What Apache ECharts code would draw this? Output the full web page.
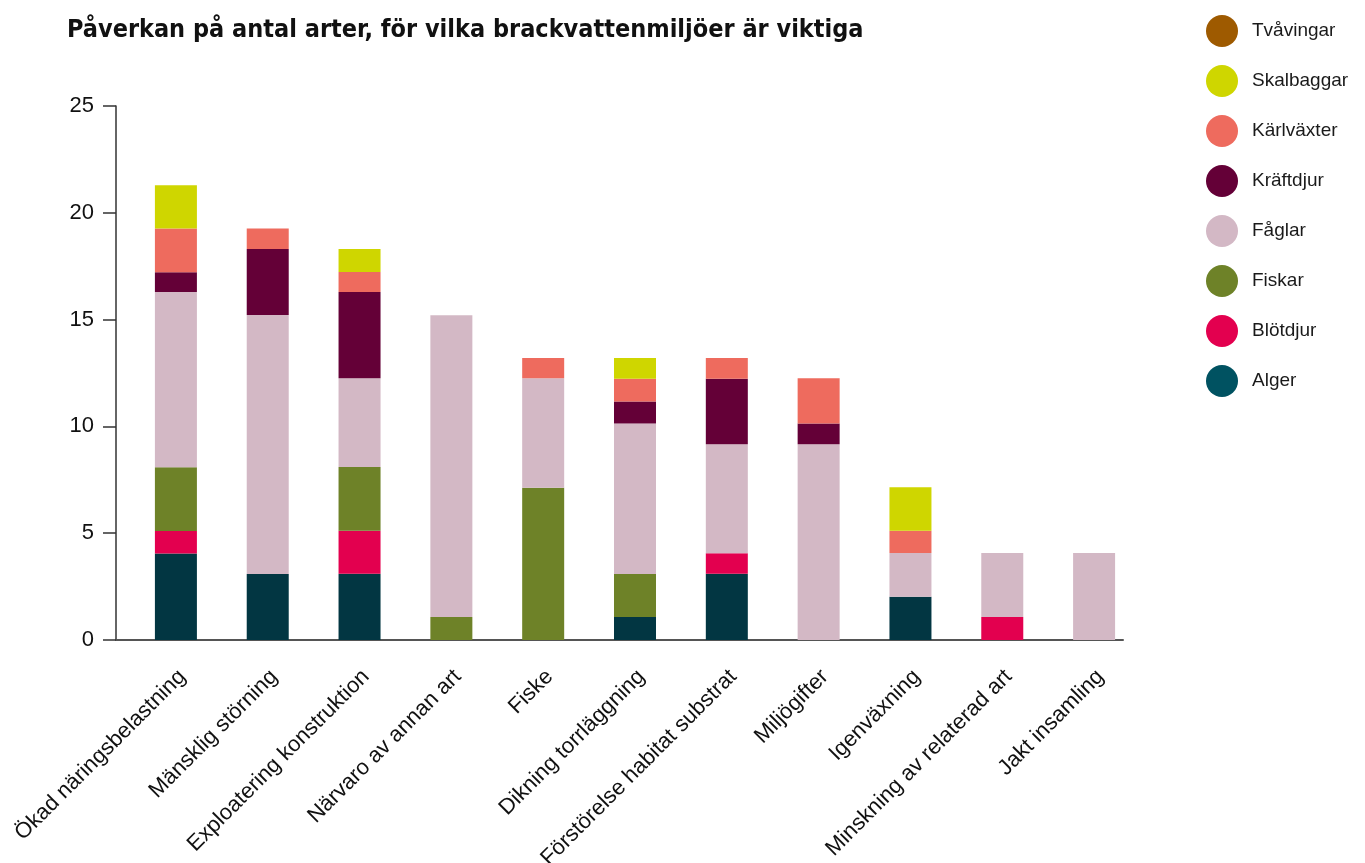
<!DOCTYPE html>
<html lang="sv">
<head>
<meta charset="utf-8">
<title>Påverkan på antal arter</title>
<script src="https://cdn.jsdelivr.net/npm/echarts@6/dist/echarts.min.js"></script>
<style>
  html, body { margin: 0; padding: 0; background: #ffffff; }
  #chart { width: 1365px; height: 863px; }
</style>
</head>
<body>
<div id="chart"></div>
<script>
// Threat categories (x axis)
const categories = [
  'Ökad näringsbelastning',
  'Mänsklig störning',
  'Exploatering konstruktion',
  'Närvaro av annan art',
  'Fiske',
  'Dikning torrläggning',
  'Förstörelse habitat substrat',
  'Miljögifter',
  'Igenväxning',
  'Minskning av relaterad art',
  'Jakt insamling'
];

// Number of species per group, stacked from the bottom up
const alger      = [4.05, 3.09, 3.10, 0,     0,    1.08, 3.10, 0,    2.03, 0,    0];
const blotdjur   = [1.05, 0,    2.02, 0,     0,    0,    0.96, 0,    0,    1.08, 0];
const fiskar     = [2.99, 0,    2.98, 1.08,  7.13, 2.01, 0,    0,    0,    0,    0];
const faglar     = [8.20, 12.13, 4.15, 14.12, 5.12, 7.04, 5.10, 9.16, 2.04, 2.99, 4.07];
const kraftdjur  = [0.93, 3.09, 4.04, 0,     0,    1.04, 3.07, 0.97, 0,    0,    0];
const karlvaxter = [2.04, 0.95, 0.94, 0,     0.95, 1.06, 0.97, 2.12, 1.05, 0,    0];
const skalbaggar = [2.03, 0,    1.07, 0,     0,    0.97, 0,    0,    2.03, 0,    0];
const tvavingar  = [0,    0,    0,    0,     0,    0,    0,    0,    0,    0,    0];

// Value axis ticks
const yTicks = [0, 5, 10, 15, 20, 25];

const groups = [
  { name: 'Alger',      data: alger,      color: '#023642', legendColor: '#005261' },
  { name: 'Blötdjur',   data: blotdjur,   color: '#e3004f' },
  { name: 'Fiskar',     data: fiskar,     color: '#6e8228' },
  { name: 'Fåglar',     data: faglar,     color: '#d3b8c5' },
  { name: 'Kräftdjur',  data: kraftdjur,  color: '#640037' },
  { name: 'Kärlväxter', data: karlvaxter, color: '#ee6b5e' },
  { name: 'Skalbaggar', data: skalbaggar, color: '#cfd600' },
  { name: 'Tvåvingar',  data: tvavingar,  color: '#9e5a00' }
];

const FONT = "'Liberation Sans', Arial, Helvetica, sans-serif";

const chart = echarts.init(document.getElementById('chart'), null, { renderer: 'canvas' });

chart.setOption({
  backgroundColor: '#ffffff',
  animation: false,
  title: {
    text: 'Påverkan på antal arter, för vilka brackvattenmiljöer är viktiga',
    left: 62,
    top: 13,
    textStyle: {
      fontFamily: "'Liberation Sans Narrow', 'DejaVu Sans Condensed', " + FONT,
      fontWeight: 'bold',
      fontSize: 25,
      color: '#111111'
    }
  },
  legend: {
    orient: 'vertical',
    left: 1201,
    top: 10,
    icon: 'circle',
    itemWidth: 32,
    itemHeight: 32,
    itemGap: 18,
    selectedMode: false,
    textStyle: {
      fontFamily: FONT,
      fontSize: 19,
      color: '#1a1a1a',
      padding: [0, 0, 0, 9]
    },
    data: groups.slice().reverse().map(g => ({
      name: g.name,
      itemStyle: { color: g.legendColor || g.color }
    }))
  },
  grid: [
    // axes frame
    { left: 116, right: 242, top: 106, bottom: 223, containLabel: false, outerBoundsMode: 'none' },
    // bars
    { left: 130, right: 225, top: 106, bottom: 223, containLabel: false, outerBoundsMode: 'none' }
  ],
  xAxis: [
    {
      gridIndex: 0,
      type: 'value',
      min: 0,
      max: 1,
      axisLine: { show: true, lineStyle: { color: '#555555', width: 2 } },
      axisTick: { show: false },
      axisLabel: { show: false },
      splitLine: { show: false }
    },
    {
      gridIndex: 1,
      type: 'category',
      data: categories,
      axisLine: { show: false },
      axisTick: { show: false },
      axisLabel: {
        interval: 0,
        rotate: 45,
        margin: 27,
        verticalAlign: 'top',
        lineHeight: 18,
        fontFamily: FONT,
        fontSize: 22,
        color: '#111111'
      }
    }
  ],
  yAxis: [
    {
      gridIndex: 0,
      type: 'value',
      min: yTicks[0],
      max: yTicks[yTicks.length - 1],
      interval: yTicks[1] - yTicks[0],
      axisLine: { show: true, lineStyle: { color: '#333333', width: 1.5 } },
      axisTick: { show: true, length: 13, lineStyle: { color: '#333333', width: 1.5 } },
      axisLabel: {
        margin: 22,
        fontFamily: FONT,
        fontSize: 22,
        color: '#111111'
      },
      splitLine: { show: false }
    },
    {
      gridIndex: 1,
      type: 'value',
      min: yTicks[0],
      max: yTicks[yTicks.length - 1],
      show: false
    }
  ],
  series: groups.map(g => ({
    name: g.name,
    type: 'bar',
    stack: 'arter',
    xAxisIndex: 1,
    yAxisIndex: 1,
    barWidth: 42,
    itemStyle: { color: g.color },
    emphasis: { disabled: true },
    data: g.data
  }))
});
</script>
</body>
</html>
